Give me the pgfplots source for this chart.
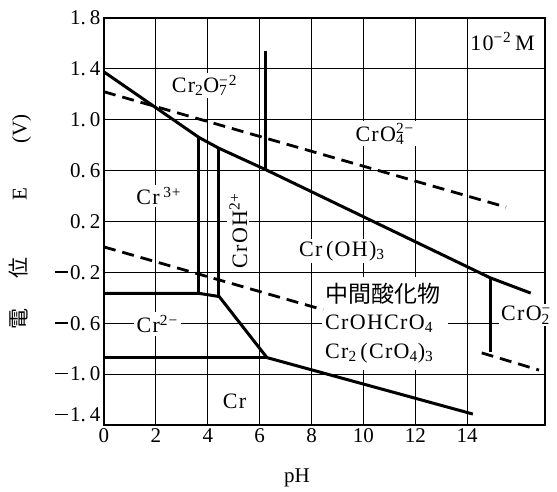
\documentclass[border=0pt]{standalone}
\usepackage{fontspec}
\setmainfont{Liberation Serif}
\newfontfamily\cjk{Noto Sans CJK JP}
\usepackage{pgfplots}
\pgfplotsset{compat=1.18}
\newcommand\lf{\fontsize{22}{26}\selectfont\addfontfeatures{LetterSpace=6}}
\newcommand\tf{\fontsize{21}{25}\selectfont}
\newcommand\dn[1]{\textsubscript{#1}}
\newcommand\up[1]{\textsuperscript{#1}}
\newcommand\mn{\rule[6.5pt]{13pt}{1.3pt}\kern2pt}
\begin{document}
\begin{tikzpicture}
\useasboundingbox (-104pt,-67pt) rectangle (453pt,425pt);
\begin{axis}[
  at={(0,0)}, anchor=south west, scale only axis,
  width=441pt, height=407pt,
  xmin=0, xmax=17, ymin=-1.4, ymax=1.8,
  xtick={0,2,4,6,8,10,12,14},
  xticklabels={0,2,4,6,8,10,12,14},
  ytick={-1.4,-1,-0.6,-0.2,0.2,0.6,1,1.4,1.8},
  yticklabels={{\raisebox{3pt}[0pt][0pt]{\mn 1.\kern4pt 4}},{\mn 1.\kern4pt 0},{\mn 0.\kern4pt 6},{\mn 0.\kern4pt 2},{0.\kern4pt 2},{0.\kern4pt 6},{1.\kern4pt 0},{1.\kern4pt 4},{1.\kern4pt 8}},
  grid=major,
  major grid style={black, line width=1.2pt},
  axis line style={black, line width=2.4pt},
  major tick length=0pt,
  ticklabel style={font=\tf},
  clip=false,
  ln/.style={black, line width=3pt, mark=none},
  dsh/.style={black, line width=2.8pt, mark=none, dash pattern=on 12pt off 7pt},
]
% white mask behind the text block
\fill[white] (axis cs:8.42,-0.235) rectangle (axis cs:13.25,-0.97);

% solid boundaries
\addplot[ln] coordinates {(0,1.376) (3.66,0.861) (4.42,0.777) (6.24,0.607) (14.89,-0.243) (16.45,-0.363)};
\addplot[ln] coordinates {(3.66,0.861) (3.66,-0.365)};
\addplot[ln] coordinates {(0,-0.365) (3.66,-0.365) (4.44,-0.39) (6.28,-0.87) (14.22,-1.314)};
\addplot[ln] coordinates {(4.42,0.777) (4.42,-0.39)};
\addplot[ln] coordinates {(0,-0.87) (6.28,-0.87)};
\addplot[ln] coordinates {(6.24,1.54) (6.24,0.607)};
\addplot[ln] coordinates {(14.89,-0.243) (14.89,-0.824)};
% dashed water lines
\addplot[dsh] coordinates {(0,1.22) (15.5,0.313)};
\addplot[dsh] coordinates {(0,0) (8.45,-0.494)};
\addplot[dsh] coordinates {(14.56,-0.833) (16.77,-0.968)};

% labels
\node[fill=white, inner sep=2pt, font=\lf] at (axis cs:3.87,1.27) {Cr\dn{2}O\rlap{\dn{7}}\up{−2}};
\node[fill=white, inner sep=2pt, font=\lf] at (axis cs:10.82,0.89) {CrO\rlap{\dn{4}}\up{2−}};
\node[fill=white, inner sep=2pt, font=\lf] at (axis cs:15.36,1.615) {10\up{−2}\,M};
\node[fill=white, inner sep=2pt, font=\lf] at (axis cs:2.11,0.40) {Cr\,\up{3+}};
\node[fill=white, inner sep=2pt, font=\lf, rotate=90] at (axis cs:5.18,0.127) {CrOH\up{2+}};
\node[fill=white, inner sep=2pt, font=\lf] at (axis cs:9.17,-0.033) {Cr\,(OH)\dn{3}};
\node[anchor=west, inner sep=0pt] at (axis cs:8.52,-0.366) {\fontsize{23}{26}\selectfont\cjk 中間酸化物};
\node[anchor=west, inner sep=0pt, font=\lf] at (axis cs:8.52,-0.602) {CrOHCrO\dn{4}};
\node[anchor=west, inner sep=0pt, font=\lf] at (axis cs:8.52,-0.837) {Cr\dn{2}\,(CrO\dn{4})\dn{3}};
\node[fill=white, inner sep=2pt, font=\lf] at (axis cs:16.27,-0.537) {CrO\rlap{\dn{2}}\up{−}};
\node[fill=white, inner sep=3pt, font=\lf] at (axis cs:2.05,-0.607) {Cr\up{2−}};
\node[fill=white, inner sep=2pt, font=\lf] at (axis cs:5.03,-1.21) {Cr};

% axis titles
\node[font=\tf] at (axis cs:7.44,-1.817) {pH};
\node[rotate=90, font=\tf] at (axis cs:-3.24,0.196)
  {{\cjk 電}\hspace{31pt}{\cjk 位}\hspace{56pt}E\hspace{45pt}(V)};
\end{axis}
\end{tikzpicture}
\end{document}
